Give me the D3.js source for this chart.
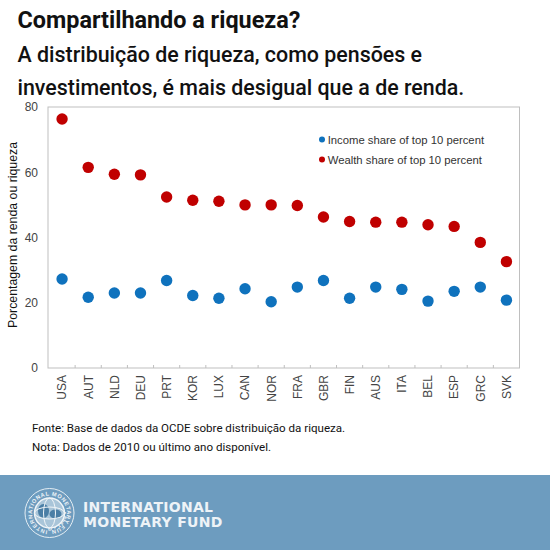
<!doctype html>
<html lang="en">
<head>
<meta charset="utf-8">
<title>Compartilhando a riqueza?</title>
<script src="https://d3js.org/d3.v7.min.js"></script>
<style>
	html, body { margin: 0; padding: 0; background: #fff; }
	svg { display: block; }
	.head { font-family: Roboto, sans-serif; fill: #111; }
	.note { font-family: Roboto, sans-serif; font-size: 11.55px; fill: #111; }
	.axis text { font-family: "Liberation Sans", Arial, sans-serif; font-size: 12px; fill: #444; }
	.axis path, .axis line { stroke: #bfbfbf; }
</style>
</head>
<body>
<svg width="550" height="550"></svg>
<script>
var countries = ['USA','AUT','NLD','DEU','PRT','KOR','LUX','CAN','NOR','FRA','GBR','FIN','AUS','ITA','BEL','ESP','GRC','SVK'];
var income = [27.3,21.7,23,23,26.8,22.2,21.4,24.3,20.3,24.8,26.8,21.4,24.8,24.1,20.5,23.5,24.8,20.8];
var wealth = [76.3,61.5,59.4,59.2,52.4,51.4,51.1,50,50,49.8,46.3,44.9,44.7,44.7,43.9,43.4,38.5,32.6];
var yTicks = [0,20,40,60,80];
var seriesNames = ['Income share of top 10 percent','Wealth share of top 10 percent'];
var seriesColors = ['#0f72bd','#c00000'];

const svg = d3.select('svg');
var left = 48, right = 519.5, top_ = 107, bottom = 368;

var x = d3.scaleBand().domain(countries).range([left + 1, right]);
var y = d3.scaleLinear().domain([0, 80]).range([bottom, top_]);

// headline
svg.append('text').attr('class','head').attr('x',17.5).attr('y',28)
	.style('font-size','23.4px').style('font-weight',700).text('Compartilhando a riqueza?');
svg.append('text').attr('class','head').attr('x',17.5).attr('y',61.5)
	.style('font-size','21.4px').style('font-weight',500).text('A distribuição de riqueza, como pensões e');
svg.append('text').attr('class','head').attr('x',17.5).attr('y',95)
	.style('font-size','21.4px').style('font-weight',500).text('investimentos, é mais desigual que a de renda.');

// frame
svg.append('rect').attr('x',left).attr('y',top_).attr('width',right-left).attr('height',bottom-top_)
	.attr('fill','none').attr('stroke','#bfbfbf');

// axes
var gy = svg.append('g').attr('class','axis').attr('transform','translate('+left+',0)')
	.call(d3.axisLeft(y).tickValues(yTicks).tickSize(0).tickPadding(10));
gy.select('.domain').remove();

var gx = svg.append('g').attr('class','axis').attr('transform','translate(0,'+bottom+')')
	.call(d3.axisBottom(x).tickSize(0).tickPadding(0));
gx.select('.domain').remove();
gx.selectAll('text')
	.attr('transform','rotate(-90)')
	.attr('text-anchor','end')
	.attr('x',-7).attr('y',0).attr('dy','0.36em');

// little separators between the categories
svg.append('g').selectAll('line').data(countries.slice(1)).enter().append('line')
	.attr('x1',d=>x(d)).attr('x2',d=>x(d))
	.attr('y1',bottom-3).attr('y2',bottom)
	.attr('stroke','#bfbfbf');

// y title
svg.append('text')
	.attr('transform','translate(17,235) rotate(-90)')
	.attr('text-anchor','middle')
	.style('font-family','"Liberation Sans", Arial, sans-serif')
	.style('font-size','12.3px').style('fill','#111')
	.text('Porcentagem da renda ou riqueza');

// points
[income, wealth].forEach(function(vals, k) {
	svg.append('g').selectAll('circle').data(vals).enter().append('circle')
		.attr('cx',(d,i)=>x(countries[i])+x.bandwidth()/2)
		.attr('cy',d=>y(d))
		.attr('r',5.7)
		.attr('fill',seriesColors[k]);
});

// legend
var legend = svg.append('g').selectAll('g').data(seriesNames).enter().append('g')
	.attr('transform',(d,i)=>'translate(322,'+(139.5+i*20)+')');
legend.append('circle').attr('r',3).attr('fill',(d,i)=>seriesColors[i]);
legend.append('text').attr('x',5.7).attr('dy','0.36em')
	.style('font-family','"Liberation Sans", Arial, sans-serif')
	.style('font-size','11.3px').style('fill','#333')
	.text(d=>d);

// notes
svg.append('text').attr('class','note').attr('x',32).attr('y',432).text('Fonte: Base de dados da OCDE sobre distribuição da riqueza.');
svg.append('text').attr('class','note').attr('x',32).attr('y',451).text('Nota: Dados de 2010 ou último ano disponível.');

// footer band + logo
svg.append('rect').attr('x',0).attr('y',475).attr('width',550).attr('height',75).attr('fill','#6d9cbf');
var logo = svg.append('g').attr('transform','translate(49.5,513)');
logo.append('circle').attr('r',24.5).attr('fill','none').attr('stroke','#e4edf3').attr('stroke-width',1);
logo.append('path').attr('id','ring').attr('fill','none').attr('d',d3.arc()({innerRadius:17.5,outerRadius:17.5,startAngle:-Math.PI,endAngle:Math.PI}));
logo.append('text')
	.style('font-family','"Liberation Sans", Arial, sans-serif').style('font-weight',700)
	.style('font-size','5.6px').style('letter-spacing','0.55px').style('fill','#eef3f7')
	.append('textPath').attr('href','#ring').attr('startOffset','1%')
	.text('INTERNATIONAL MONETARY FUND • 1944 •');
logo.append('circle').attr('r',15).attr('fill','#a9c5d9').attr('stroke','#f0f5f8').attr('stroke-width',1.4);
logo.append('ellipse').attr('cx',-6).attr('cy',-2).attr('rx',5.5).attr('ry',7).attr('fill','#4a7ea5');
logo.append('ellipse').attr('cx',6).attr('cy',1).attr('rx',6).attr('ry',4.5).attr('fill','#4a7ea5');
logo.append('ellipse').attr('rx',15).attr('ry',6).attr('fill','none').attr('stroke','#f0f5f8');
logo.append('ellipse').attr('rx',6).attr('ry',15).attr('fill','none').attr('stroke','#f0f5f8');
svg.append('text').attr('x',83).attr('y',512)
	.style('font-family','"DejaVu Sans", sans-serif').style('font-weight',700).style('font-size','14px').style('letter-spacing','0.3px').style('fill','#eef3f7')
	.text('INTERNATIONAL');
svg.append('text').attr('x',83).attr('y',527)
	.style('font-family','"DejaVu Sans", sans-serif').style('font-weight',700).style('font-size','14px').style('letter-spacing','0.3px').style('fill','#eef3f7')
	.text('MONETARY FUND');
</script>
</body>
</html>
